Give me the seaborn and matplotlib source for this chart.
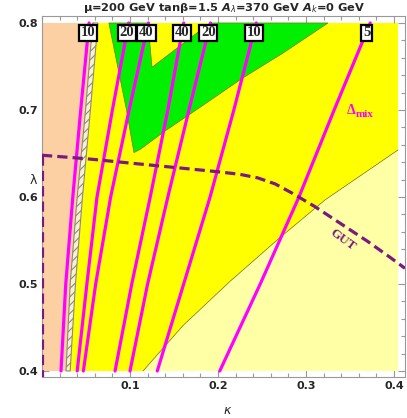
import numpy as np
import matplotlib
matplotlib.use('Agg')
import matplotlib.pyplot as plt
import seaborn as sns
from matplotlib.patches import Polygon, Rectangle
from matplotlib.ticker import MultipleLocator

sns.set_style('ticks')
plt.rcParams['font.family'] = ['DejaVu Sans']
plt.rcParams['mathtext.fontset'] = 'dejavusans'
plt.rcParams['hatch.color'] = '#8f8a70'
plt.rcParams['hatch.linewidth'] = 0.8

lam_grid = [0.80, 0.70, 0.60, 0.50, 0.40]
k_10a = [0.0535, 0.044, 0.035, 0.027, 0.0216]
k_20a = [0.0985, 0.080, 0.0625, 0.051, 0.040]
k_40a = [0.121, 0.099, 0.078, 0.061, 0.047]
k_40b = [0.161, 0.143, 0.123, 0.102, 0.083]
k_20b = [0.1915, 0.167, 0.143, 0.120, 0.100]
k_10b = [0.2435, 0.218, 0.191, 0.161, 0.131]
k_5 = [0.373, 0.332, 0.292, 0.248, 0.202]
contour_labels = ['10', '20', '40', '40', '20', '10', '5']

# hatched band next to the peach region
band_lo = [0.0575, 0.0495, 0.040, 0.032, 0.0273]
band_hi = [0.0635, 0.055, 0.046, 0.038, 0.032]

# green region outline
green_k = [0.076, 0.086, 0.096, 0.1045, 0.112, 0.140, 0.1795, 0.2285, 0.274, 0.325, 0.191, 0.125, 0.1205]
green_l = [0.80, 0.75, 0.70, 0.651, 0.655, 0.676, 0.703, 0.737, 0.7655, 0.80, 0.80, 0.749, 0.80]

# light yellow region boundary
ly_k = [0.1148, 0.16, 0.2136, 0.27, 0.3216, 0.4045]
ly_l = [0.40, 0.452, 0.503, 0.553, 0.5966, 0.654]

# GUT dashed curve
gut_k = [0.0, 0.05, 0.10, 0.15, 0.20, 0.225, 0.245, 0.265, 0.285, 0.31, 0.34, 0.37, 0.395, 0.4125]
gut_l = [0.648, 0.644, 0.639, 0.634, 0.629, 0.626, 0.622, 0.615, 0.604, 0.589, 0.569, 0.549, 0.531, 0.518]

kmax = 0.4045
fig = plt.figure(figsize=(4.07, 4.18), dpi=100)
ax = fig.add_axes([42/407, 1-377/418, (405-42)/407, (377-16)/418])

ax.add_patch(Rectangle((0, 0.4), kmax, 0.4, fc='#FFFF00', ec='none', zorder=0))
peach = [(0, 0.4)] + [(k, l) for k, l in zip(band_lo[::-1], lam_grid[::-1])] + [(0, 0.8)]
ax.add_patch(Polygon(peach, closed=True, fc='#FDD0A4', ec='none', zorder=1))
band = list(zip(band_lo, lam_grid)) + list(zip(band_hi[::-1], lam_grid[::-1]))
ax.add_patch(Polygon(band, closed=True, fc='#f4f0dc', ec='#8f8a70', lw=0.8, hatch='////', zorder=2))
ax.add_patch(Polygon(list(zip(green_k, green_l)), closed=True, fc='#00F000', ec='#6f7a10', lw=0.5, zorder=1))
ly = list(zip(ly_k, ly_l)) + [(kmax, 0.4)]
ax.add_patch(Polygon(ly, closed=True, fc='#FFFFA6', ec='none', zorder=1))
ax.plot(ly_k, ly_l, color='#6f6f20', lw=0.5, zorder=2)

lines = [k_10a, k_20a, k_40a, k_40b, k_20b, k_10b, k_5]
for k, lab in zip(lines, contour_labels):
    sns.lineplot(x=k, y=lam_grid, sort=False, estimator=None, color='#FF00FF',
                 lw=2.3, ax=ax, zorder=3)
    kl = np.interp(0.79, lam_grid[::-1], k[::-1])
    ax.text(kl, 0.7885, lab, ha='center', va='center', family='Liberation Serif',
            weight='bold', size=10.5, zorder=6,
            bbox=dict(boxstyle='square,pad=0.12', fc='white', ec='black', lw=1.6))

sns.lineplot(x=gut_k, y=gut_l, sort=False, estimator=None, color='#7A1A80',
             lw=2.3, ax=ax, zorder=4, dashes=False)
ax.lines[-1].set_dashes((3.2, 1.6))
ax.plot([0, 0], [0.648, 0.393], color='#7A1A80', lw=2.3, zorder=4, dashes=(3.2, 1.6))

ax.text(0.351, 0.699, 'Δ', family='Liberation Serif', weight='bold', size=10,
        color='#FF00FF', ha='center', va='center', zorder=5)
ax.text(0.3665, 0.6945, 'mix', family='Liberation Serif', weight='bold', size=8,
        color='#FF00FF', ha='center', va='center', zorder=5)
ax.text(0.342, 0.551, 'GUT', family='Liberation Serif', weight='bold', size=9.5,
        color='#7A1A80', ha='center', va='center', rotation=-36, zorder=5)

ax.set_xlim(0, 0.4125)
ax.set_ylim(0.3931, 0.808)
ax.xaxis.set_minor_locator(MultipleLocator(0.02))
ax.yaxis.set_minor_locator(MultipleLocator(0.02))
ax.set_xticks([0.1, 0.2, 0.3, 0.4])
ax.set_xticklabels(['0.1', '0.2', '0.3', '0.4'])
ax.set_yticks([0.4, 0.5, 0.6, 0.7, 0.8])
ax.set_yticklabels(['0.4', '0.5', '0.6', '0.7', '0.8'])
ax.tick_params(which='both', direction='in', top=True, right=True, color='#999999',
               width=0.8, labelsize=8, pad=3)
ax.tick_params(which='major', length=5)
ax.tick_params(which='minor', length=3)
for lbl in ax.get_xticklabels() + ax.get_yticklabels():
    lbl.set_fontweight('bold')
for s in ax.spines.values():
    s.set_color('#999999')
    s.set_linewidth(0.8)
    s.set_visible(True)

fig.text(224/407, 1-8/418, r'μ=200 GeV tanβ=1.5 $\mathbfit{A}_{\lambda}$=370 GeV $\mathbfit{A}_{k}$=0 GeV',
         ha='center', va='center', weight='bold', size=8.2)
fig.text(33/407, 1-181/418, 'λ', ha='center', va='center', size=9)
fig.text(227/407, 1-411/418, 'κ', ha='center', va='center', size=9, style='italic')

fig.savefig('out.png', dpi=100)
